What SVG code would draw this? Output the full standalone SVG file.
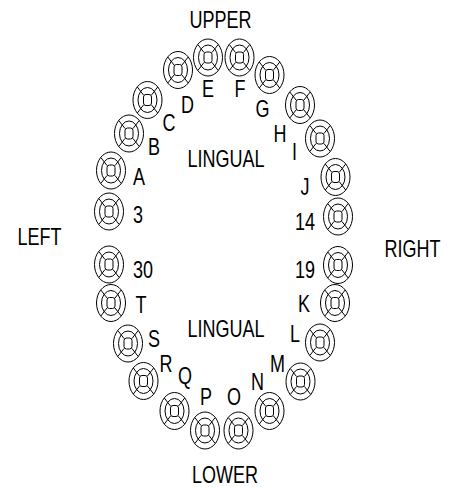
<svg xmlns="http://www.w3.org/2000/svg" width="451" height="487" viewBox="0 0 451 487">
<style>
.tooth-shape{fill:none;stroke:#000;stroke-width:1}
.t{font-family:"Liberation Sans",Arial,sans-serif;font-size:18px;fill:#000;text-anchor:middle}
.l{text-anchor:start}
.r{text-anchor:end}
</style>
<defs>
<g id="tooth" class="tooth-shape">
<ellipse cx="0" cy="0" rx="14.5" ry="18.5"/>
<ellipse cx="0" cy="0" rx="9.5" ry="12.5"/>
<rect x="-4" y="-5.5" width="8" height="11" rx="2.5"/>
<path d="M-4,-5 L-10.2,-13 M4,-5 L10.2,-13 M-4,5 L-10.2,13 M4,5 L10.2,13"/>
</g>
</defs>
<rect width="451" height="487" fill="#fff"/>
<g id="connectors"/>
<g id="labels">
<text class="t" transform="translate(220.5,28) scale(1,1.3)">UPPER</text>
<text class="t" transform="translate(225,483) scale(1,1.3)">LOWER</text>
<text class="t" transform="translate(39.5,245) scale(1,1.3)">LEFT</text>
<text class="t" transform="translate(412.5,257) scale(1,1.3)">RIGHT</text>
<text class="t" transform="translate(226,167) scale(1,1.3)">LINGUAL</text>
<text class="t" transform="translate(226,337) scale(1,1.3)">LINGUAL</text>
</g>
<g id="tooth-E"><use href="#tooth" x="208" y="57.5"/><text class="t" transform="translate(208,97) scale(1,1.3)">E</text></g>
<g id="tooth-F"><use href="#tooth" x="239.5" y="57.5"/><text class="t" transform="translate(240,97) scale(1,1.3)">F</text></g>
<g id="tooth-D"><use href="#tooth" x="178" y="70"/><text class="t" transform="translate(187.5,113) scale(1,1.3)">D</text></g>
<g id="tooth-G"><use href="#tooth" x="269.5" y="75"/><text class="t" transform="translate(262.5,117) scale(1,1.3)">G</text></g>
<g id="tooth-C"><use href="#tooth" x="147.5" y="100"/><text class="t" transform="translate(169,131) scale(1,1.3)">C</text></g>
<g id="tooth-H"><use href="#tooth" x="300" y="105"/><text class="t" transform="translate(280,142) scale(1,1.3)">H</text></g>
<g id="tooth-B"><use href="#tooth" x="129" y="133.5"/><text class="t" transform="translate(154,155) scale(1,1.3)">B</text></g>
<g id="tooth-I"><use href="#tooth" x="320" y="138.5"/><text class="t" transform="translate(294.5,160) scale(1,1.3)">I</text></g>
<g id="tooth-A"><use href="#tooth" x="111" y="170.5"/><text class="t" transform="translate(139,185) scale(1,1.3)">A</text></g>
<g id="tooth-J"><use href="#tooth" x="335.5" y="177"/><text class="t" transform="translate(305,195) scale(1,1.3)">J</text></g>
<g id="tooth-3"><use href="#tooth" x="109" y="211.5"/><text class="t l" transform="translate(133,223) scale(1,1.3)">3</text></g>
<g id="tooth-14"><use href="#tooth" x="338" y="216.5"/><text class="t r" transform="translate(315,230) scale(1,1.3)">14</text></g>
<g id="tooth-30"><use href="#tooth" x="109" y="264.5"/><text class="t l" transform="translate(133,278) scale(1,1.3)">30</text></g>
<g id="tooth-19"><use href="#tooth" x="338" y="265"/><text class="t r" transform="translate(315,278) scale(1,1.3)">19</text></g>
<g id="tooth-T"><use href="#tooth" x="111" y="303"/><text class="t" transform="translate(141,313) scale(1,1.3)">T</text></g>
<g id="tooth-K"><use href="#tooth" x="335" y="303"/><text class="t" transform="translate(304,312) scale(1,1.3)">K</text></g>
<g id="tooth-S"><use href="#tooth" x="128" y="343.5"/><text class="t" transform="translate(154,347) scale(1,1.3)">S</text></g>
<g id="tooth-L"><use href="#tooth" x="320" y="342.5"/><text class="t" transform="translate(295,342) scale(1,1.3)">L</text></g>
<g id="tooth-R"><use href="#tooth" x="143.5" y="381"/><text class="t" transform="translate(166,372) scale(1,1.3)">R</text></g>
<g id="tooth-M"><use href="#tooth" x="300.5" y="381.5"/><text class="t" transform="translate(277.5,372) scale(1,1.3)">M</text></g>
<g id="tooth-Q"><use href="#tooth" x="174.5" y="411"/><text class="t" transform="translate(185,384) scale(1,1.3)">Q</text></g>
<g id="tooth-N"><use href="#tooth" x="269.5" y="411"/><text class="t" transform="translate(257.5,390) scale(1,1.3)">N</text></g>
<g id="tooth-P"><use href="#tooth" x="205" y="430.5"/><text class="t" transform="translate(206,405) scale(1,1.3)">P</text></g>
<g id="tooth-O"><use href="#tooth" x="238.5" y="430.5"/><text class="t" transform="translate(234,405) scale(1,1.3)">O</text></g>
</svg>
